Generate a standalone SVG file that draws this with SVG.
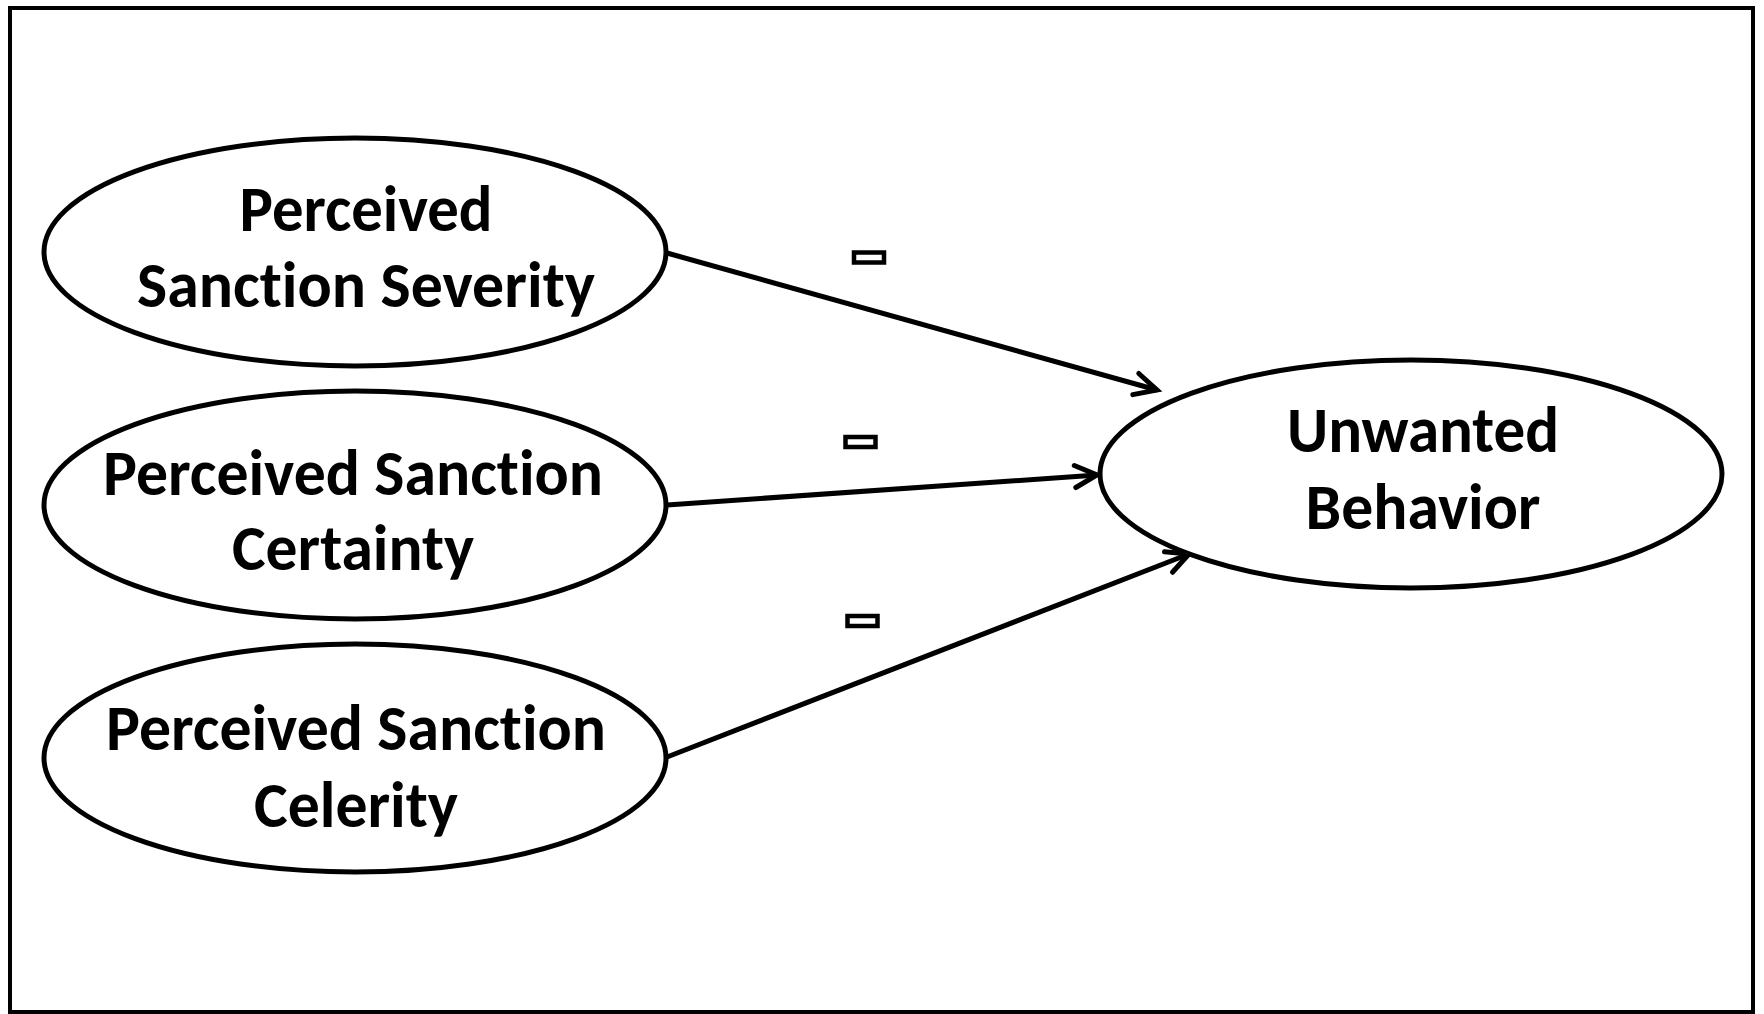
<svg xmlns="http://www.w3.org/2000/svg" width="1764" height="1014" viewBox="0 0 1764 1014">
  <style>
    .frame { fill: #ffffff; stroke: #000000; stroke-width: 4; }
    .node ellipse { fill: #ffffff; stroke: #000000; stroke-width: 5; }
    .node text { font-family: Carlito, "Liberation Sans Narrow", "Liberation Sans", sans-serif; font-weight: bold; font-size: 64px; fill: #000000; text-anchor: middle; font-variant-ligatures: none; font-feature-settings: "liga" 0, "clig" 0; }
    .edge { fill: none; stroke: #000000; stroke-width: 5; marker-end: url(#vhead); }
    .sign { fill: none; stroke: #000000; stroke-width: 4.5; }
  </style>
  <defs>
    <marker id="vhead" markerUnits="userSpaceOnUse" markerWidth="40" markerHeight="40" viewBox="-30 -20 40 40" refX="0" refY="0" orient="auto">
      <path d="M -22 -11 L 0 0 L -22 11" fill="none" stroke="#000000" stroke-width="5" stroke-linecap="round" stroke-linejoin="miter"/>
    </marker>
  </defs>

  <rect class="frame" x="10" y="8" width="1743" height="1004"/>

  <g id="connectors">
    <line class="edge" x1="667" y1="253" x2="1157" y2="390"/>
    <line class="edge" x1="667" y1="505" x2="1097" y2="475"/>
    <line class="edge" x1="667" y1="757" x2="1189" y2="554"/>
    <rect class="sign" x="854" y="252.5" width="30" height="10"/>
    <rect class="sign" x="845.5" y="437" width="30" height="10"/>
    <rect class="sign" x="847.5" y="616" width="30" height="10"/>
  </g>

  <g id="severity" class="node">
    <ellipse cx="355" cy="252" rx="311" ry="114"/>
    <text x="366" y="231" textLength="253" lengthAdjust="spacingAndGlyphs">Perceived</text>
    <text x="366" y="307" textLength="458" lengthAdjust="spacingAndGlyphs">Sanction Severity</text>
  </g>

  <g id="certainty" class="node">
    <ellipse cx="355" cy="505" rx="311" ry="114"/>
    <text x="353" y="495" textLength="500" lengthAdjust="spacingAndGlyphs">Perceived Sanction</text>
    <text x="353" y="570" textLength="242" lengthAdjust="spacingAndGlyphs">Certainty</text>
  </g>

  <g id="celerity" class="node">
    <ellipse cx="355" cy="758" rx="311" ry="114"/>
    <text x="356" y="750" textLength="500" lengthAdjust="spacingAndGlyphs">Perceived Sanction</text>
    <text x="356" y="827" textLength="204" lengthAdjust="spacingAndGlyphs">Celerity</text>
  </g>

  <g id="unwanted" class="node">
    <ellipse cx="1411" cy="474" rx="311" ry="114"/>
    <text x="1423" y="452" textLength="272" lengthAdjust="spacingAndGlyphs">Unwanted</text>
    <text x="1423" y="529" textLength="235" lengthAdjust="spacingAndGlyphs">Behavior</text>
  </g>
</svg>
